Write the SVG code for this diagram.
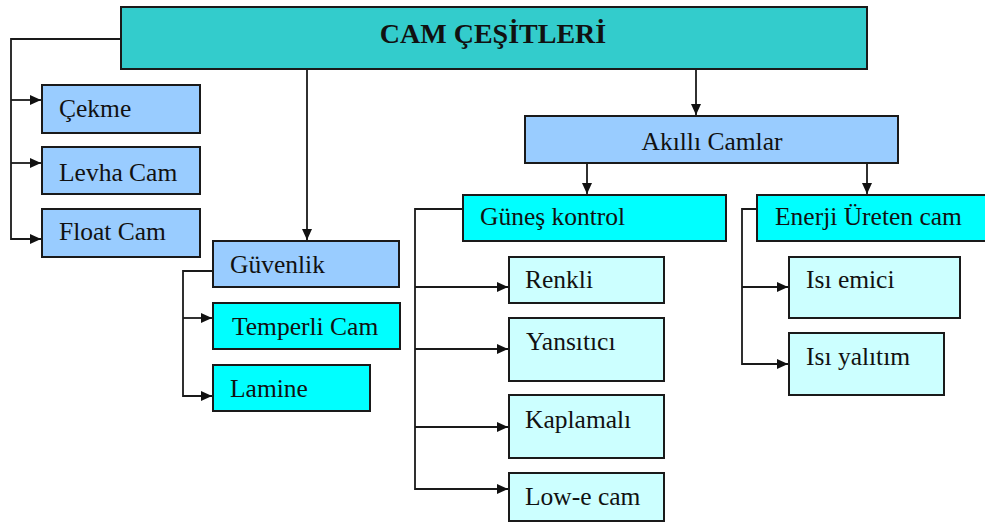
<svg xmlns="http://www.w3.org/2000/svg" width="985" height="524" viewBox="0 0 985 524">
<style>
.box{stroke:#1a1a1a;stroke-width:2}
.main{fill:#33CCCC}
.blue{fill:#99CCFF}
.cyan{fill:#00FFFF}
.pale{fill:#CCFFFF}
.t{font-family:'Liberation Serif','DejaVu Serif',serif;font-size:25.5px;fill:#111}
.title{font-family:'Liberation Serif','DejaVu Serif',serif;font-size:28px;font-weight:bold;fill:#111}
.c{fill:none;stroke:#1a1a1a;stroke-width:1.8}
</style>
<defs>
<marker id="ah" markerUnits="userSpaceOnUse" markerWidth="12" markerHeight="11" refX="11" refY="5" orient="auto">
<path d="M0,0 L11,5 L0,10 z" fill="#111"/>
</marker>
</defs>
<g id="connectors">
<path class="c" d="M121,39 H11 V239 H41" marker-end="url(#ah)"/>
<path class="c" d="M11,100 H41" marker-end="url(#ah)"/>
<path class="c" d="M11,163 H41" marker-end="url(#ah)"/>
<path class="c" d="M307,69 V240" marker-end="url(#ah)"/>
<path class="c" d="M696,69 V115" marker-end="url(#ah)"/>
<path class="c" d="M213,271 H183 V396 H212" marker-end="url(#ah)"/>
<path class="c" d="M183,318 H212" marker-end="url(#ah)"/>
<path class="c" d="M587,163 V194" marker-end="url(#ah)"/>
<path class="c" d="M867,163 V194" marker-end="url(#ah)"/>
<path class="c" d="M463,209 H415 V489 H508" marker-end="url(#ah)"/>
<path class="c" d="M415,287 H508" marker-end="url(#ah)"/>
<path class="c" d="M415,349 H508" marker-end="url(#ah)"/>
<path class="c" d="M415,427 H508" marker-end="url(#ah)"/>
<path class="c" d="M757,209 H742 V364 H788" marker-end="url(#ah)"/>
<path class="c" d="M742,287 H788" marker-end="url(#ah)"/>
</g>
<g id="cam-cesitleri"><rect class="box main" x="121" y="7" width="746" height="62"/><text class="title" x="493" y="43" text-anchor="middle">CAM ÇEŞİTLERİ</text></g>
<g id="cekme"><rect class="box blue" x="42" y="85" width="158" height="48"/><text class="t" x="59" y="117">Çekme</text></g>
<g id="levha-cam"><rect class="box blue" x="42" y="147" width="158" height="47"/><text class="t" x="59" y="181">Levha Cam</text></g>
<g id="float-cam"><rect class="box blue" x="42" y="209" width="158" height="48"/><text class="t" x="59" y="240">Float Cam</text></g>
<g id="guvenlik"><rect class="box blue" x="213" y="241" width="186" height="46"/><text class="t" x="230" y="273">Güvenlik</text></g>
<g id="temperli-cam"><rect class="box cyan" x="213" y="303" width="187" height="46"/><text class="t" x="232" y="335">Temperli Cam</text></g>
<g id="lamine"><rect class="box cyan" x="213" y="365" width="157" height="46"/><text class="t" x="230" y="397">Lamine</text></g>
<g id="akilli-camlar"><rect class="box blue" x="525" y="116" width="373" height="47"/><text class="t" x="712" y="150" text-anchor="middle">Akıllı Camlar</text></g>
<g id="gunes-kontrol"><rect class="box cyan" x="463" y="195" width="263" height="46"/><text class="t" x="480" y="225">Güneş kontrol</text></g>
<g id="enerji-ureten-cam"><rect class="box cyan" x="757" y="195" width="240" height="46"/><text class="t" x="775" y="225">Enerji Üreten cam</text></g>
<g id="renkli"><rect class="box pale" x="509" y="257" width="155" height="46"/><text class="t" x="525" y="288">Renkli</text></g>
<g id="yansitici"><rect class="box pale" x="509" y="318" width="155" height="63"/><text class="t" x="526" y="350">Yansıtıcı</text></g>
<g id="kaplamali"><rect class="box pale" x="509" y="395" width="155" height="63"/><text class="t" x="525" y="428">Kaplamalı</text></g>
<g id="low-e-cam"><rect class="box pale" x="509" y="473" width="155" height="48"/><text class="t" x="525" y="505">Low-e cam</text></g>
<g id="isi-emici"><rect class="box pale" x="789" y="257" width="171" height="61"/><text class="t" x="806" y="288">Isı emici</text></g>
<g id="isi-yalitim"><rect class="box pale" x="789" y="333" width="155" height="62"/><text class="t" x="806" y="365">Isı yalıtım</text></g>
</svg>
